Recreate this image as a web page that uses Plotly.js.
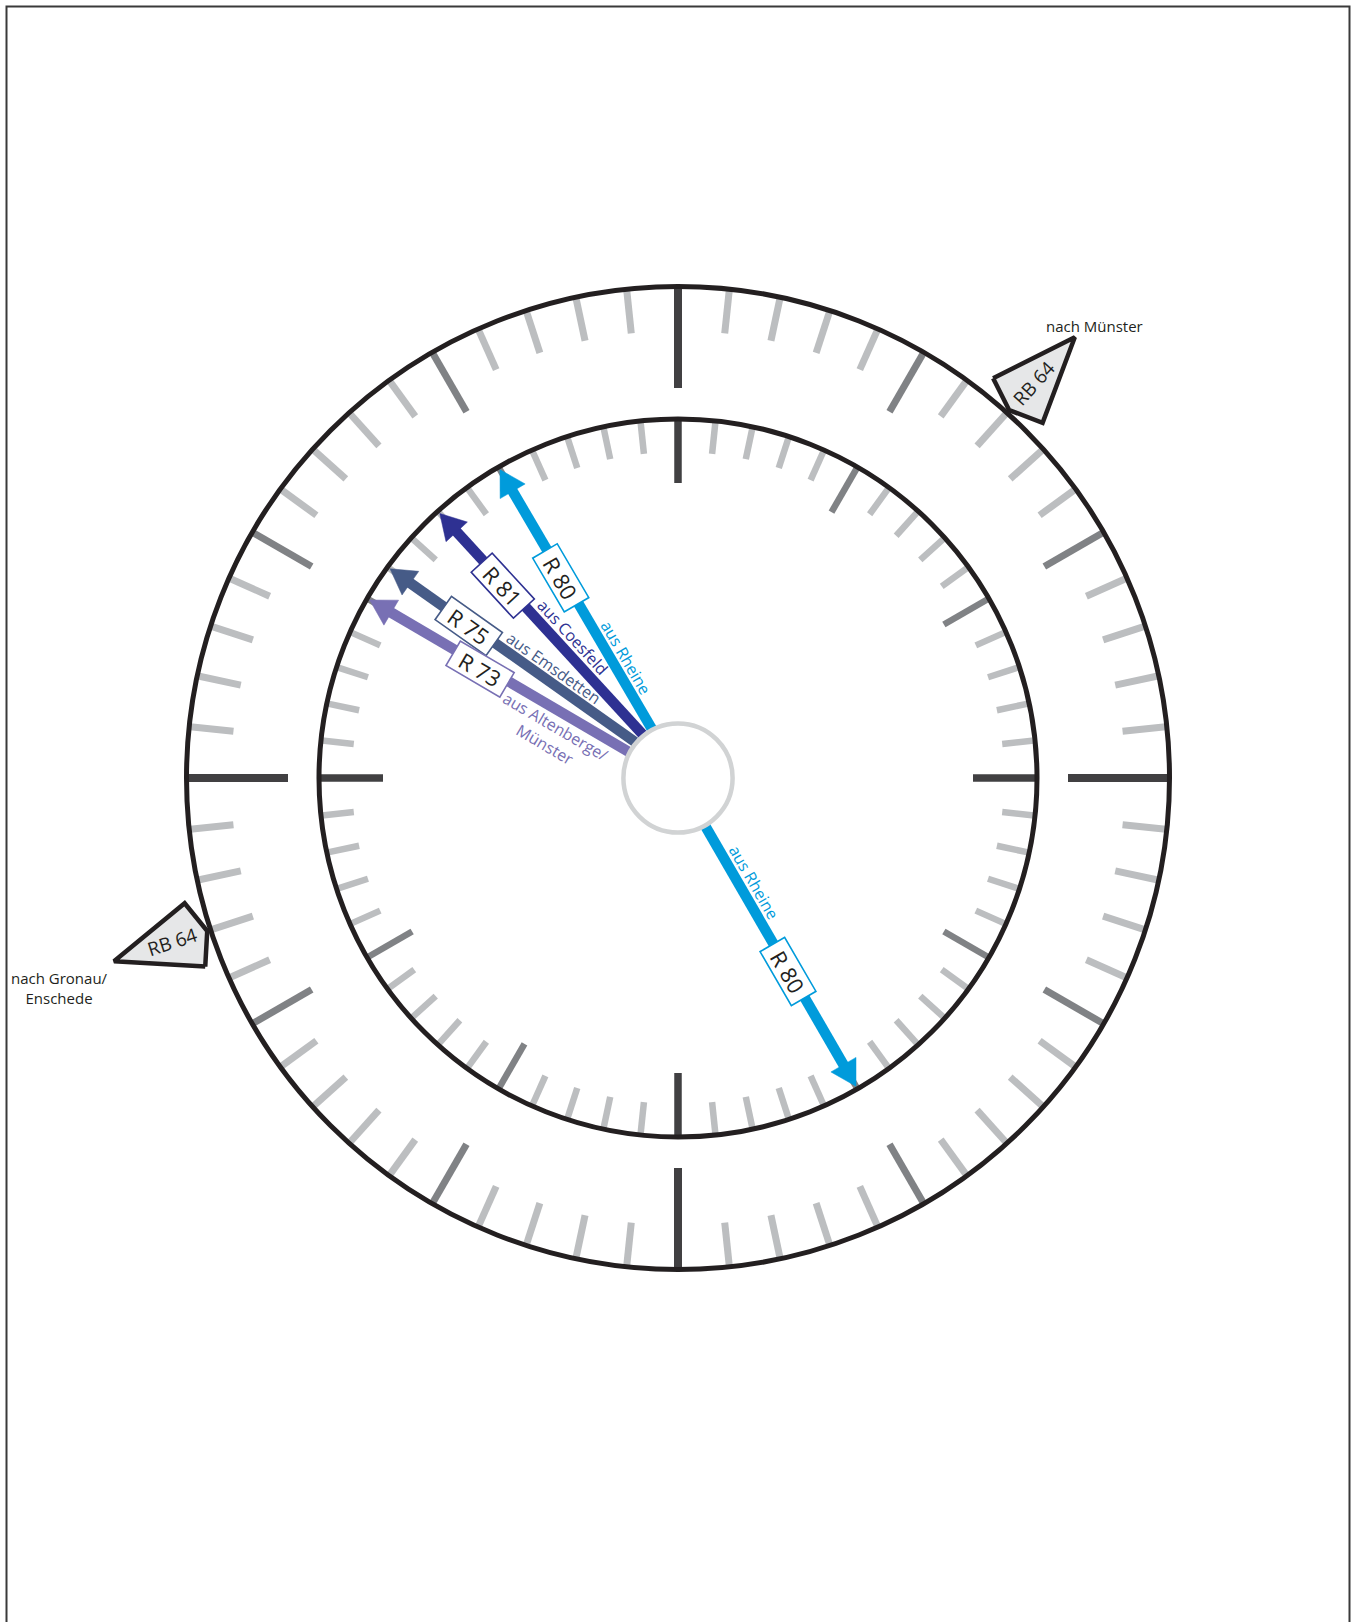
<!DOCTYPE html>
<html>
<head>
<meta charset="utf-8">
<script src="https://cdn.plot.ly/plotly-3.0.1.min.js"></script>
<style>
html, body { margin: 0; padding: 0; background: #ffffff; }
#chart { width: 1360px; height: 1622px; }
</style>
</head>
<body>
<div id="chart"></div>
<script>
// ---------------- DATA ----------------
// arriving lines (minute of the hour at which the arrow points)
const routeLabels  = ['R 80', 'R 81', 'R 75', 'R 73', 'R 80'];
const routeOrigins = ['aus Rheine', 'aus Coesfeld', 'aus Emsdetten', 'aus Altenberge/<br>Münster', 'aus Rheine'];
const routeMinutes = [55, 53, 51, 50, 25];
// departing lines
const departLabels       = ['RB 64', 'RB 64'];
const departDestinations = ['nach Münster', 'nach Gronau/<br>Enschede'];
const departMinutes      = [7, 42];

// ---------------- STYLE / LAYOUT CONSTANTS ----------------
const FONT = 'Open Sans, DejaVu Sans, sans-serif';
const INK = '#231f20';
const routeColors = ['#009bdb', '#2e3192', '#465b87', '#7870b4', '#009bdb'];
const tailFan     = [2, 3, 4, -2, 0.5];        // deg offset of arrow tail (fan at hub)
const boxPos      = [[176, -2], [204, -2], [203, -1], [170, -4], [167, 1]];   // [along, perp]
const originPos   = [[74, 14], [119, 14], [109, 13], [76, -26], [72, -14]];  // [along, perp]
const destShift   = [[20, 11], [-55, -27]];

const R_OUT = 491.5, R_IN = 359, R_HUB = 54.6;
const TAIL_R = 56, TIP_R = 356, HEAD_LEN = 25, HEAD_HALF = 14.5, SHAFT_W = 10.5;

const tickSpec = {
  outer: { R: R_OUT, end: { major: 390, five: 423, minor: 447 }, width: { major: 8, five: 7, minor: 7 } },
  inner: { R: R_IN,  end: { major: 295, five: 307, minor: 326 }, width: { major: 7.5, five: 6.5, minor: 6.5 } }
};
const tickColor = { major: '#414042', five: '#808285', minor: '#bcbec0' };

// ---------------- HELPERS ----------------
function pol(r, bearing) {
  const a = bearing * Math.PI / 180;
  return [r * Math.sin(a), r * Math.cos(a)];
}
function normAngle(a) {
  while (a > 90) a -= 180;
  while (a <= -90) a += 180;
  return a;
}

const traces = [];
const annotations = [];

// ---------------- TICKS ----------------
Object.keys(tickSpec).forEach(function (ringKey) {
  const spec = tickSpec[ringKey];
  ['minor', 'five', 'major'].forEach(function (cls) {
    const xs = [], ys = [];
    for (let m = 0; m < 60; m++) {
      const c = (m % 15 === 0) ? 'major' : (m % 5 === 0 ? 'five' : 'minor');
      if (c !== cls) continue;
      const p0 = pol(spec.R - 1, m * 6), p1 = pol(spec.end[cls], m * 6);
      xs.push(p0[0], p1[0], null);
      ys.push(p0[1], p1[1], null);
    }
    traces.push({
      type: 'scatter', mode: 'lines', x: xs, y: ys, hoverinfo: 'skip',
      line: { color: tickColor[cls], width: spec.width[cls] }
    });
  });
});

// ---------------- ARRIVAL ARROWS ----------------
routeMinutes.forEach(function (min, i) {
  const b = min * 6;
  const tail = pol(TAIL_R, b + tailFan[i]);
  const tip = pol(TIP_R, b);
  const dx = tip[0] - tail[0], dy = tip[1] - tail[1];
  const L = Math.hypot(dx, dy);
  const u = [dx / L, dy / L];
  const n = [u[1], -u[0]];
  const base = [tip[0] - HEAD_LEN * u[0], tip[1] - HEAD_LEN * u[1]];
  const col = routeColors[i];
  traces.push({
    type: 'scatter', mode: 'lines', hoverinfo: 'skip',
    x: [tail[0], base[0] + u[0]], y: [tail[1], base[1] + u[1]],
    line: { color: col, width: SHAFT_W }
  });
  traces.push({
    type: 'scatter', mode: 'lines', hoverinfo: 'skip', fill: 'toself', fillcolor: col,
    x: [tip[0], base[0] + HEAD_HALF * n[0], base[0] - HEAD_HALF * n[0], tip[0]],
    y: [tip[1], base[1] + HEAD_HALF * n[1], base[1] - HEAD_HALF * n[1], tip[1]],
    line: { color: col, width: 0.5 }
  });
  const ang = normAngle(Math.atan2(-u[1], u[0]) * 180 / Math.PI);
  const bp = boxPos[i];
  annotations.push({
    xref: 'x', yref: 'y', showarrow: false,
    x: tail[0] + bp[0] * u[0] + bp[1] * n[0],
    y: tail[1] + bp[0] * u[1] + bp[1] * n[1],
    text: routeLabels[i], textangle: ang,
    font: { family: FONT, size: 22, color: INK },
    bgcolor: '#ffffff', bordercolor: col, borderwidth: 1.6, borderpad: 2,
    width: 57, height: 23, align: 'center', valign: 'middle'
  });
  const op = originPos[i];
  annotations.push({
    xref: 'x', yref: 'y', showarrow: false,
    x: tail[0] + op[0] * u[0] + op[1] * n[0],
    y: tail[1] + op[0] * u[1] + op[1] * n[1],
    text: routeOrigins[i], textangle: ang,
    font: { family: FONT, size: 16, color: col }, align: 'center'
  });
});

// ---------------- DEPARTURES (RB 64) ----------------
departMinutes.forEach(function (min, i) {
  const b = min * 6;
  const s1 = pol(509, b - 3.75), tip = pol(593, b), s2 = pol(509, b + 3.75), corner = pol(495, b);
  traces.push({
    type: 'scatter', mode: 'lines', hoverinfo: 'skip', fill: 'toself', fillcolor: '#e6e7e8',
    x: [s1[0], tip[0], s2[0], corner[0], s1[0]],
    y: [s1[1], tip[1], s2[1], corner[1], s1[1]],
    line: { color: INK, width: 4.5 }
  });
  const tp = pol(532, b);
  annotations.push({
    xref: 'x', yref: 'y', showarrow: false, x: tp[0], y: tp[1],
    text: departLabels[i], textangle: normAngle(b - 90),
    font: { family: FONT, size: 19, color: INK }
  });
  annotations.push({
    xref: 'x', yref: 'y', showarrow: false, x: tip[0], y: tip[1],
    xshift: destShift[i][0], yshift: destShift[i][1],
    text: departDestinations[i], align: 'center',
    font: { family: FONT, size: 15, color: INK }
  });
});

// ---------------- SHAPES ----------------
const shapes = [
  { type: 'circle', xref: 'x', yref: 'y', x0: -R_OUT, x1: R_OUT, y0: -R_OUT, y1: R_OUT,
    line: { color: INK, width: 5 }, layer: 'above' },
  { type: 'circle', xref: 'x', yref: 'y', x0: -R_IN, x1: R_IN, y0: -R_IN, y1: R_IN,
    line: { color: INK, width: 5 }, layer: 'above' },
  { type: 'circle', xref: 'x', yref: 'y', x0: -R_HUB, x1: R_HUB, y0: -R_HUB, y1: R_HUB,
    line: { color: '#d1d3d4', width: 4.5 }, fillcolor: 'rgba(255,255,255,0)', layer: 'above' },
  { type: 'rect', xref: 'paper', yref: 'paper', x0: 6.5 / 1360, x1: 1349.5 / 1360, y0: -0.05, y1: 1 - 6.5 / 1622,
    line: { color: '#3a3a3a', width: 2 }, layer: 'above' }
];

const layout = {
  width: 1360, height: 1622, autosize: false,
  margin: { l: 0, r: 0, t: 0, b: 0, pad: 0 },
  paper_bgcolor: '#ffffff', plot_bgcolor: '#ffffff',
  showlegend: false, hovermode: false,
  xaxis: { range: [-678, 682], visible: false, fixedrange: true },
  yaxis: { range: [-844, 778], visible: false, fixedrange: true },
  shapes: shapes,
  annotations: annotations
};

Plotly.newPlot('chart', traces, layout, { staticPlot: true, displayModeBar: false });
</script>
</body>
</html>
